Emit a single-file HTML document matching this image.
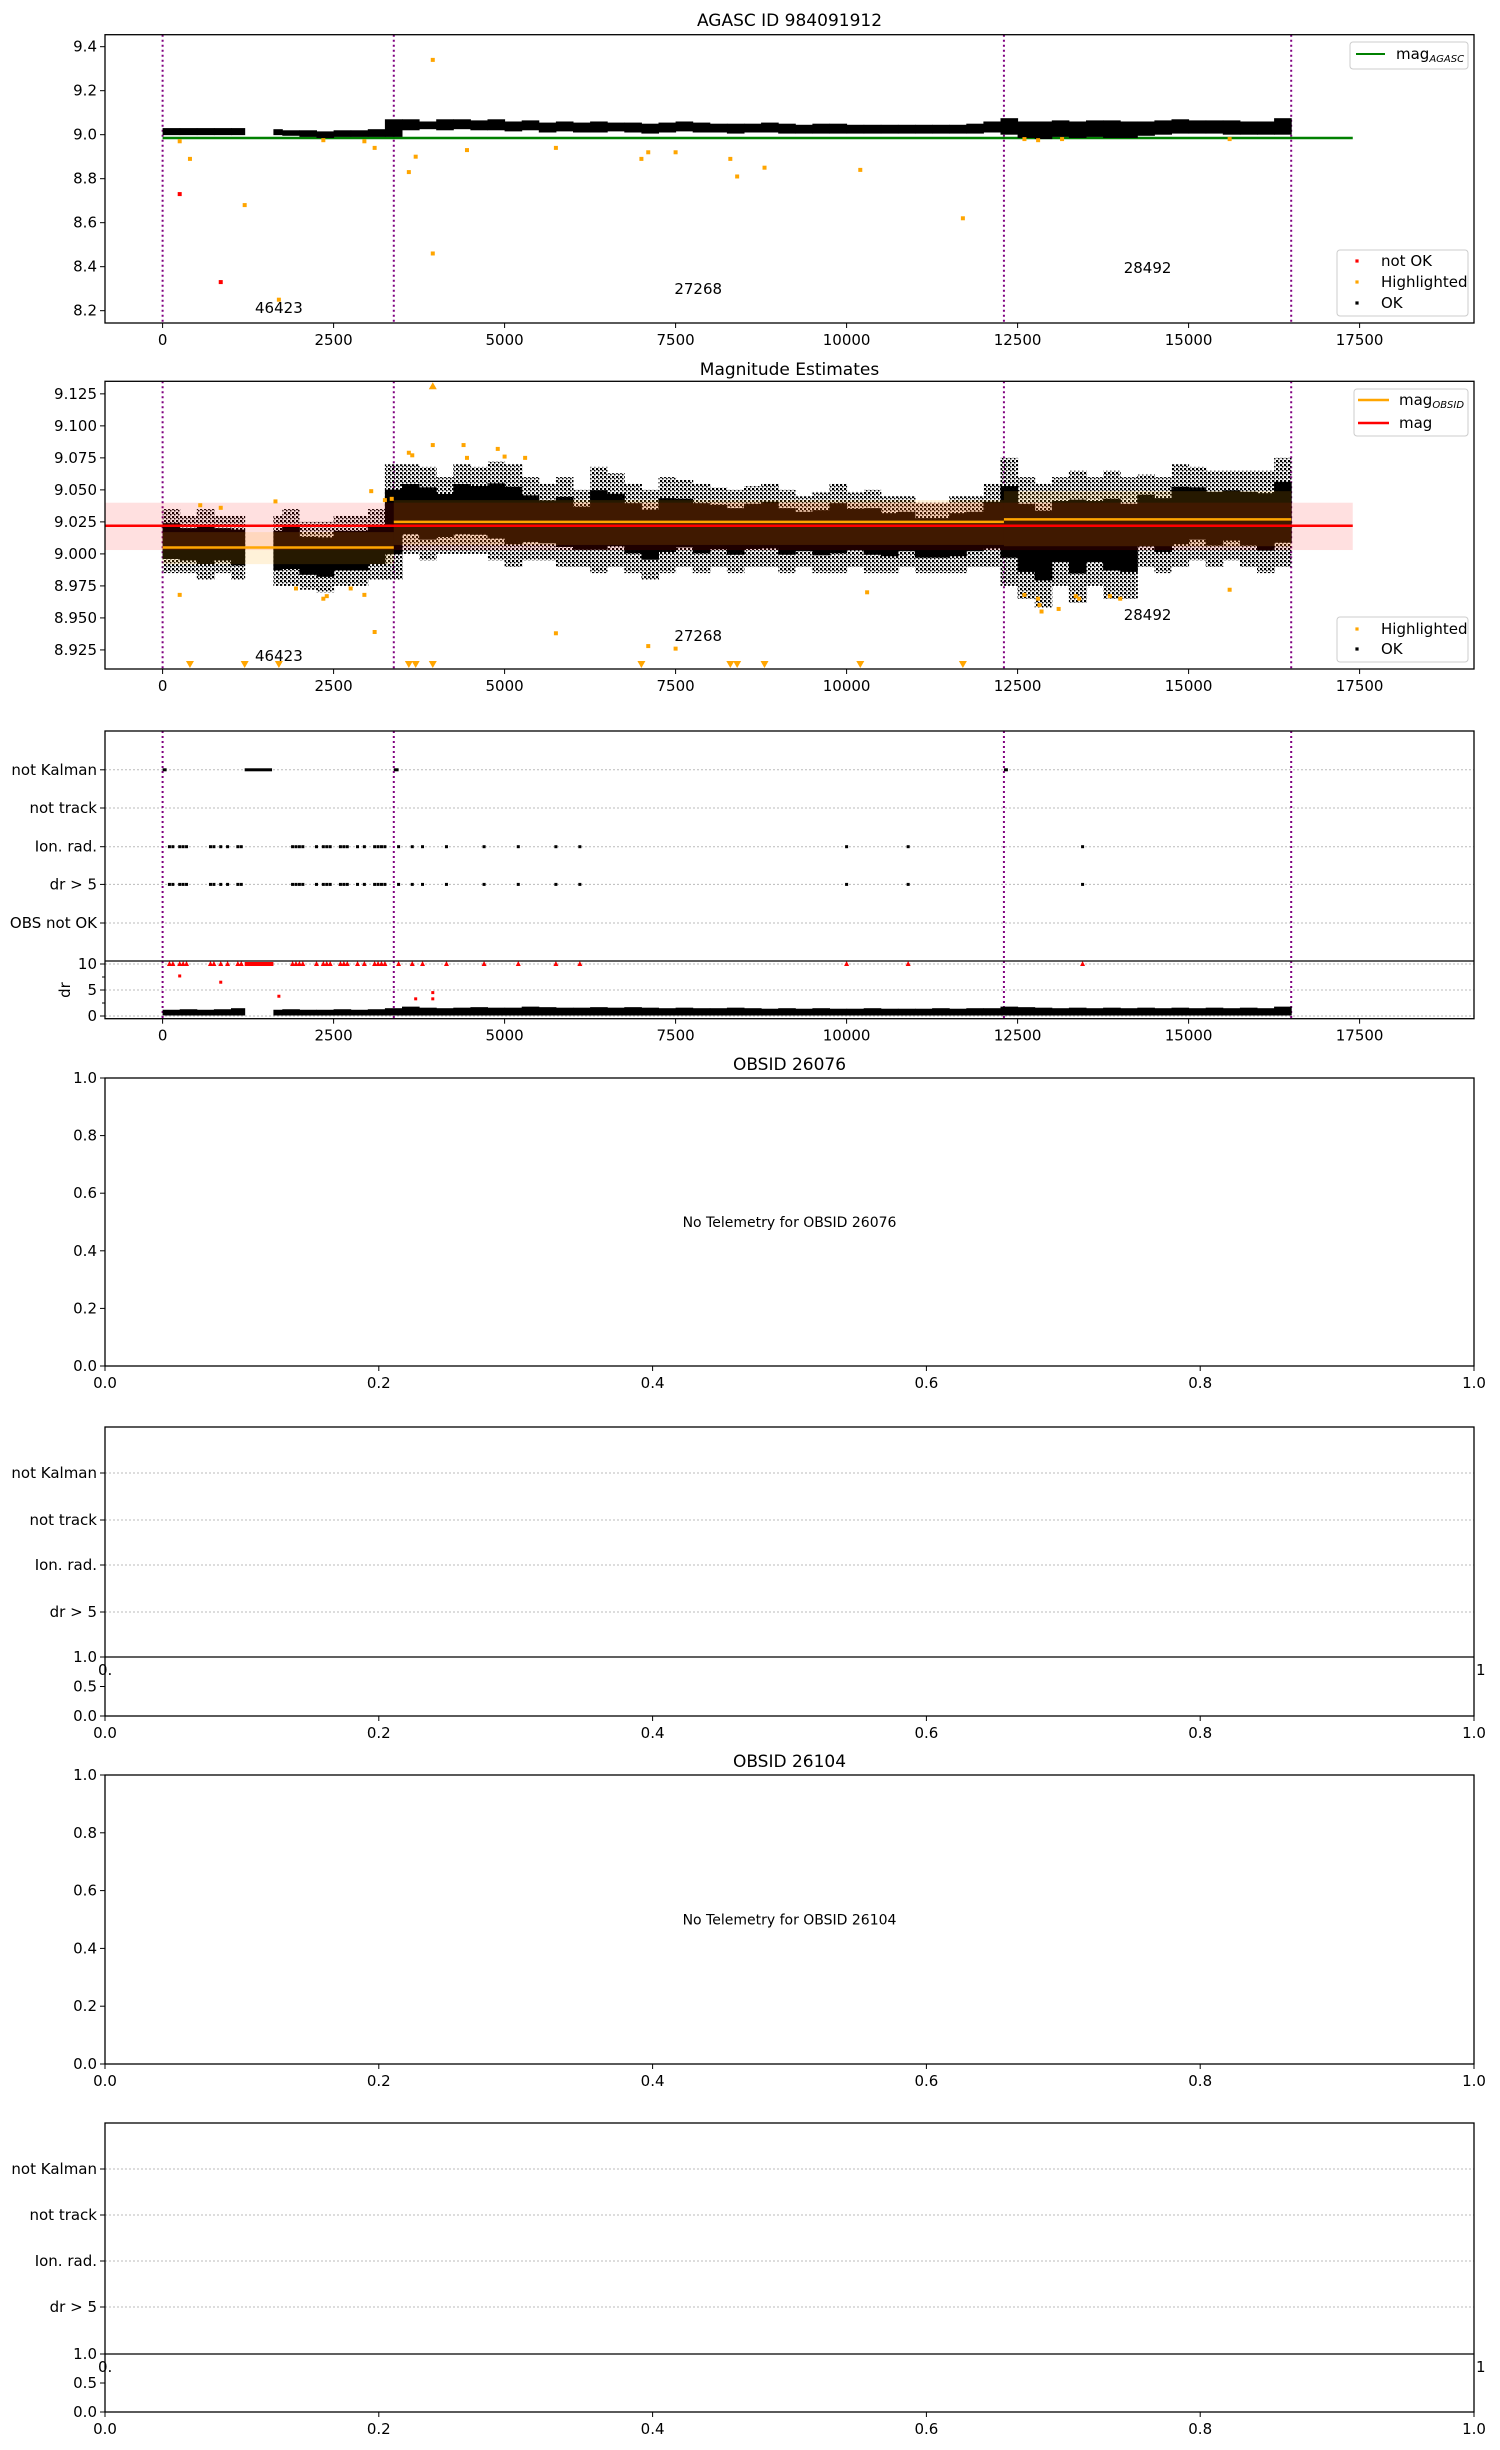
<!DOCTYPE html>
<html><head><meta charset="utf-8">
<style>
html,body{margin:0;padding:0;background:#fff;}
svg{display:block;font-family:"DejaVu Sans","Liberation Sans",sans-serif;}
</style></head>
<body>
<svg id="fig" width="1500" height="2450" xmlns="http://www.w3.org/2000/svg">
<defs>
<pattern id="dots" width="4" height="4" patternUnits="userSpaceOnUse"><rect x="0" y="0" width="2.2" height="2.2" fill="#000"/><rect x="2" y="2" width="1.5" height="1.5" fill="#000"/></pattern>
</defs>
</svg>
<script>
// ---- data (bins of 250 starting at 0) ----
const binWidth = 250;
const p1Lo = [8.998,8.998,8.998,8.998,8.998,null,8.998,8.995,8.99,8.985,8.99,8.99,8.99,8.99,9.02,9.025,9.02,9.025,9.02,9.02,9.015,9.02,9.01,9.015,9.01,9.01,9.015,9.01,9.005,9.01,9.015,9.01,9.01,9.005,9.01,9.01,9.005,9.005,9.005,9.005,9.005,9.005,9.005,9.005,9.005,9.005,9.005,9.005,9.01,9.0,8.985,8.98,8.99,8.985,8.99,8.985,8.985,8.995,9.0,9.005,9.005,9.005,9.0,9.0,9.0,9.0];
const p1Hi = [9.03,9.03,9.03,9.03,9.03,null,9.025,9.02,9.02,9.015,9.02,9.02,9.025,9.07,9.07,9.06,9.07,9.07,9.065,9.07,9.06,9.065,9.055,9.06,9.055,9.06,9.055,9.055,9.05,9.055,9.06,9.055,9.05,9.05,9.05,9.055,9.05,9.045,9.05,9.05,9.045,9.045,9.045,9.045,9.045,9.045,9.045,9.05,9.06,9.075,9.06,9.06,9.065,9.06,9.065,9.065,9.06,9.06,9.065,9.07,9.065,9.065,9.065,9.06,9.06,9.075];
const p2Lo = [8.985,8.985,8.98,8.985,8.98,null,8.975,8.975,8.972,8.97,8.975,8.975,8.98,8.98,9.0,8.995,9.0,9.0,9.0,8.995,8.99,8.995,8.995,8.99,8.99,8.985,8.99,8.985,8.98,8.985,8.99,8.985,8.99,8.985,8.99,8.99,8.985,8.99,8.985,8.985,8.99,8.985,8.985,8.99,8.985,8.985,8.985,8.99,8.99,8.975,8.965,8.958,8.975,8.962,8.975,8.965,8.965,8.99,8.985,8.99,8.995,8.99,8.995,8.99,8.985,8.99];
const p2Hi = [9.035,9.03,9.035,9.03,9.03,null,9.03,9.035,9.025,9.025,9.03,9.03,9.035,9.07,9.07,9.068,9.06,9.07,9.068,9.072,9.07,9.06,9.055,9.06,9.05,9.068,9.063,9.055,9.05,9.06,9.058,9.055,9.052,9.05,9.053,9.055,9.05,9.045,9.048,9.055,9.048,9.05,9.045,9.045,9.04,9.04,9.045,9.045,9.055,9.075,9.06,9.055,9.06,9.065,9.06,9.065,9.06,9.062,9.06,9.07,9.068,9.065,9.065,9.065,9.065,9.075];
const drHi = [1.2,1.3,1.2,1.3,1.5,null,1.2,1.3,1.2,1.2,1.3,1.2,1.3,1.5,1.8,1.6,1.5,1.6,1.7,1.6,1.6,1.8,1.7,1.6,1.6,1.7,1.6,1.7,1.6,1.5,1.6,1.5,1.5,1.6,1.5,1.4,1.5,1.4,1.5,1.4,1.4,1.5,1.4,1.4,1.4,1.5,1.4,1.5,1.5,1.8,1.7,1.6,1.5,1.6,1.5,1.6,1.5,1.6,1.5,1.6,1.5,1.6,1.5,1.6,1.5,1.8];
const obsStarts = [0,3380,12300,16500];
const obsIds = ["46423","27268","28492"];
const p1HlX = [250,400,1200,1700,3100,3600,3700,3950,3950,4450,5750,7000,7100,7500,8300,8400,8800,10200,11700,12600,12800,13150,15600,2350,2950];
const p1HlY = [8.97,8.89,8.68,8.25,8.94,8.83,8.90,9.34,8.46,8.93,8.94,8.89,8.92,8.92,8.89,8.81,8.85,8.84,8.62,8.98,8.975,8.98,8.98,8.975,8.97];
const p1BadX = [250,850];
const p1BadY = [8.73,8.33];
const p2HlX = [250,550,850,1650,1950,2350,2400,2750,2950,3050,3100,3250,3350,3600,3650,4400,4450,4900,5000,5300,5750,3950,7100,7500,10300,12600,12800,12820,12850,13100,13350,13400,13850,14000,15600];
const p2HlY = [8.968,9.038,9.036,9.041,8.973,8.965,8.967,8.973,8.968,9.049,8.939,9.042,9.043,9.079,9.077,9.085,9.075,9.082,9.076,9.075,8.938,9.085,8.928,8.926,8.97,8.968,8.965,8.96,8.955,8.957,8.967,8.965,8.967,8.965,8.972];
const p2DownX = [400,1200,1700,3600,3700,3950,7000,8300,8400,8800,10200,11700];
const p2UpX = [3950];
const flagCats = ["not Kalman","not track","Ion. rad.","dr > 5","OBS not OK"];
const kalmanSegs = [[0,50],[1200,1600],[3380,3450],[12300,12350]];
const ionX = [100,150,250,300,350,700,750,850,950,1100,1150,1900,1950,2000,2050,2250,2350,2400,2450,2600,2650,2700,2850,2950,3100,3150,3200,3250,3450,3650,3800,4150,4700,5200,5750,6100,10000,10900,13450];
const drRedX = [250,850,1700,3700,3950,3950];
const drRedY = [7.7,6.5,3.8,3.3,4.5,3.3];
const xTicks = [0,2500,5000,7500,10000,12500,15000,17500];
const p1YTicks = [8.2,8.4,8.6,8.8,9.0,9.2,9.4];
const p2YTicks = [8.925,8.95,8.975,9.0,9.025,9.05,9.075,9.1,9.125];
const fracTicks = [0,0.2,0.4,0.6,0.8,1.0];
const agascMag = 8.985, magMean = 9.022, magLo = 9.003, magHi = 9.040;
const obsMag = [9.005,9.025,9.027], obsLo = [8.992,9.007,9.006], obsHi = [9.017,9.042,9.049];

// ---- helpers ----
const svg = document.getElementById('fig');
const NS = 'http://www.w3.org/2000/svg';
function mk(tag, attrs, parent, txt){
  const e = document.createElementNS(NS, tag);
  for (const k in attrs) e.setAttribute(k, attrs[k]);
  if (txt !== undefined) e.textContent = txt;
  (parent || svg).appendChild(e);
  return e;
}
const AXL = 105, AXR = 1474;
const X = v => 162.6 + v * 0.0684;
const lin = (d0,d1,r0,r1) => v => r0 + (v-d0)/(d1-d0)*(r1-r0);
const FX = lin(0,1,AXL,AXR);

function frame(name){
  const g = mk('g',{});
  
  
  return g;
}
function border(g,top,bot){
  mk('rect',{x:AXL,y:top,width:AXR-AXL,height:bot-top,fill:'none',stroke:'#000','stroke-width':1.3},g);
}
function xAxisTicks(g,bot,ticks,fx,fmt){
  ticks.forEach(t=>{
    const x = fx(t);
    mk('line',{x1:x,x2:x,y1:bot,y2:bot+5,stroke:'#000','stroke-width':1},g);
    const tx = mk('text',{x:x,y:bot+22,'text-anchor':'middle','font-size':15},g,fmt(t));
    
    
  });
}
function yAxisTicks(g,ticks,fy,fmt){
  ticks.forEach(t=>{
    const y = fy(t);
    mk('line',{x1:AXL-5,x2:AXL,y1:y,y2:y,stroke:'#000','stroke-width':1},g);
    const tx = mk('text',{x:AXL-8,y:y+5,'text-anchor':'end','font-size':15},g,fmt(t));
    
    
  });
}
function vlines(g,top,bot){
  obsStarts.forEach(s=>{
    mk('line',{x1:X(s),x2:X(s),y1:top,y2:bot,stroke:'#800080','stroke-width':2,'stroke-dasharray':'2,3'},g);
  });
}
function title(txt,y,name){
  const t = mk('text',{x:(AXL+AXR)/2,y:y,'text-anchor':'middle','font-size':17},svg,txt);
  
  
}
function dot(g,x,y,r,c){ mk('rect',{x:x-r,y:y-r,width:2*r,height:2*r,fill:c},g); }
function clip(id,top,bot){
  const cp = mk('clipPath',{id:id}); mk('rect',{x:AXL,y:top,width:AXR-AXL,height:bot-top},cp);
}

// ================= Panel 1 =================
(function(){
  const top=34.7, bot=323, Y = lin(9.4545,8.144,top,bot);
  clip('c1',top,bot);
  const g = frame('agasc-panel');
  title('AGASC ID 984091912',26,'agasc-title');
  const d = mk('g',{'clip-path':'url(#c1)'},g);
  vlines(d,top,bot);
  const gl = mk('line',{x1:X(0),x2:X(17400),y1:Y(agascMag),y2:Y(agascMag),stroke:'#008000','stroke-width':2.5},d);
  
  p1Lo.forEach((lo,i)=>{
    if(lo===null) return;
    let x0=i*binWidth, x1=x0+binWidth;
    if(i===4) x1=1200; if(i===6) x0=1620;
    const r = mk('rect',{x:X(x0),y:Y(p1Hi[i]),width:X(x1)-X(x0)+0.5,height:Y(lo)-Y(p1Hi[i]),fill:'#000'},d);
    
    
  });
  p1HlX.forEach((x,i)=>dot(d,X(x),Y(p1HlY[i]),2,'#ffa500'));
  p1BadX.forEach((x,i)=>dot(d,X(x),Y(p1BadY[i]),2,'#ff0000'));
  const ann=[[1700,313],[7830,294],[14400,273]];
  obsIds.forEach((id,i)=>{const t=mk('text',{x:X(ann[i][0]),y:ann[i][1],'text-anchor':'middle','font-size':15},d,id);
    
    });
  border(g,top,bot);
  xAxisTicks(g,bot,xTicks,X,String);
  yAxisTicks(g,p1YTicks,Y,v=>v.toFixed(1));
  const l1 = mk('g',{},g);
  
  
  mk('rect',{x:1350,y:42,width:118,height:27,rx:3,fill:'#fff',stroke:'#ccc'},l1);
  mk('line',{x1:1356,x2:1385,y1:54,y2:54,stroke:'#008000','stroke-width':2},l1);
  const tt=mk('text',{x:1396,y:59,'font-size':15},l1); mk('tspan',{},tt,'mag');
  mk('tspan',{'font-size':10,'font-style':'italic',dy:3},tt,'AGASC');
  const l2 = mk('g',{},g);
  
  
  mk('rect',{x:1337,y:250,width:131,height:66,rx:3,fill:'#fff',stroke:'#ccc'},l2);
  [['not OK','#ff0000',261],['Highlighted','#ffa500',282],['OK','#000',303]].forEach(e=>{
    dot(l2,1357,e[2],1.6,e[1]); mk('text',{x:1381,y:e[2]+5,'font-size':15},l2,e[0]);
  });
})();

// ================= Panel 2 =================
(function(){
  const top=381.3, bot=669, Y = lin(9.1348,8.9101,top,bot);
  clip('c2',top,bot);
  const g = frame('magnitude-panel');
  title('Magnitude Estimates',375,'magnitude-title');
  const d = mk('g',{'clip-path':'url(#c2)'},g);
  vlines(d,top,bot);
  p2Lo.forEach((lo,i)=>{
    if(lo===null) return;
    let x0=i*binWidth, x1=x0+binWidth;
    if(i===4) x1=1200; if(i===6) x0=1620;
    const hi=p2Hi[i], mid=(lo+hi)/2, span=hi-lo;
    const r = mk('rect',{x:X(x0),y:Y(hi),width:X(x1)-X(x0)+0.5,height:Y(lo)-Y(hi),fill:'url(#dots)'},d);
    
    
    mk('rect',{x:X(x0),y:Y(mid+span*0.28),width:X(x1)-X(x0)+0.5,height:Y(mid-span*0.28)-Y(mid+span*0.28),fill:'#000'},d);
  });
  const rb = mk('rect',{x:AXL,y:Y(magHi),width:X(17400)-AXL,height:Y(magLo)-Y(magHi),fill:'#ff0000','fill-opacity':0.12},d);
  
  for(let i=0;i<3;i++){
    const x0=X(obsStarts[i]), x1=X(obsStarts[i+1]);
    mk('rect',{x:x0,y:Y(obsHi[i]),width:x1-x0,height:Y(obsLo[i])-Y(obsHi[i]),fill:'#ffa500','fill-opacity':0.15},d);
  }
  const ml = mk('line',{x1:AXL,x2:X(17400),y1:Y(magMean),y2:Y(magMean),stroke:'#ff0000','stroke-width':2.5},d);
  
  for(let i=0;i<3;i++){
    const l=mk('line',{x1:X(obsStarts[i]),x2:X(obsStarts[i+1]),y1:Y(obsMag[i]),y2:Y(obsMag[i]),stroke:'#ffa500','stroke-width':2.5},d);
    
  }
  p2HlX.forEach((x,i)=>dot(d,X(x),Y(p2HlY[i]),2,'#ffa500'));
  p2DownX.forEach(x=>mk('path',{d:`M${X(x)-4},${bot-8}L${X(x)+4},${bot-8}L${X(x)},${bot-1}Z`,fill:'#ffa500'},d));
  p2UpX.forEach(x=>mk('path',{d:`M${X(x)-4},${top+8}L${X(x)+4},${top+8}L${X(x)},${top+1}Z`,fill:'#ffa500'},d));
  const ann=[[1700,661],[7830,641],[14400,620]];
  obsIds.forEach((id,i)=>{const t=mk('text',{x:X(ann[i][0]),y:ann[i][1],'text-anchor':'middle','font-size':15},d,id);
    
    });
  border(g,top,bot);
  xAxisTicks(g,bot,xTicks,X,String);
  yAxisTicks(g,p2YTicks,Y,v=>v.toFixed(3));
  const l1 = mk('g',{},g);
  
  
  mk('rect',{x:1354,y:389,width:114,height:47,rx:3,fill:'#fff',stroke:'#ccc'},l1);
  mk('line',{x1:1358,x2:1389,y1:400,y2:400,stroke:'#ffa500','stroke-width':2.5},l1);
  const tt=mk('text',{x:1399,y:405,'font-size':15},l1); mk('tspan',{},tt,'mag');
  mk('tspan',{'font-size':10,'font-style':'italic',dy:3},tt,'OBSID');
  mk('line',{x1:1358,x2:1389,y1:423,y2:423,stroke:'#ff0000','stroke-width':2.5},l1);
  mk('text',{x:1399,y:428,'font-size':15},l1,'mag');
  const l2 = mk('g',{},g);
  
  
  mk('rect',{x:1337,y:617,width:131,height:45,rx:3,fill:'#fff',stroke:'#ccc'},l2);
  [['Highlighted','#ffa500',629],['OK','#000',649]].forEach(e=>{
    dot(l2,1357,e[2],1.6,e[1]); mk('text',{x:1381,y:e[2]+5,'font-size':15},l2,e[0]);
  });
})();

// ================= Panel 3 (flags, with data) =================
(function(){
  const top=731, split=961, bot=1018.7;
  const catYs=[769.8,808,846.7,884.4,923];
  const g = frame('flags-panel-46423');
  catYs.forEach((y,i)=>{
    mk('line',{x1:AXL,x2:AXR,y1:y,y2:y,stroke:'#bbb','stroke-width':1,'stroke-dasharray':'2,2'},g);
    mk('line',{x1:AXL-5,x2:AXL,y1:y,y2:y,stroke:'#000'},g);
    const t=mk('text',{x:AXL-8,y:y+5,'text-anchor':'end','font-size':15},g,flagCats[i]);
    
    
  });
  const D = v => 1016 - v*5.2;
  [0,5,10].forEach(v=>mk('line',{x1:AXL,x2:AXR,y1:D(v),y2:D(v),stroke:'#bbb','stroke-dasharray':'2,2'},g));
  vlines(g,top,bot);
  kalmanSegs.forEach(s=>mk('rect',{x:X(s[0]),y:catYs[0]-1.5,width:Math.max(X(s[1])-X(s[0]),4),height:3,fill:'#000'},g));
  ionX.forEach(x=>{ dot(g,X(x),catYs[2],1.5,'#000'); dot(g,X(x),catYs[3],1.5,'#000');
    mk('path',{d:`M${X(x)-2.5},${D(10)+2}L${X(x)+2.5},${D(10)+2}L${X(x)},${D(10)-3}Z`,fill:'#ff0000'},g); });
  mk('rect',{x:X(1200),y:D(10)-2,width:X(1620)-X(1200),height:4,fill:'#ff0000'},g);
  drRedX.forEach((x,i)=>dot(g,X(x),D(drRedY[i]),1.5,'#ff0000'));
  drHi.forEach((h,i)=>{
    if(h===null) return;
    let x0=i*binWidth, x1=x0+binWidth; if(i===4) x1=1200; if(i===6) x0=1620;
    const r=mk('rect',{x:X(x0),y:D(h),width:X(x1)-X(x0)+0.5,height:D(0.1)-D(h),fill:'#000'},g);
    
    
  });
  mk('line',{x1:AXL,x2:AXR,y1:split,y2:split,stroke:'#000','stroke-width':1.3},g);
  border(g,top,bot);
  [0,5,10].forEach(v=>{ mk('line',{x1:AXL-5,x2:AXL,y1:D(v),y2:D(v),stroke:'#000'},g);
    mk('text',{x:AXL-8,y:D(v)+5,'text-anchor':'end','font-size':15},g,String(v)); });
  [2.5,7.5].forEach(v=>mk('line',{x1:AXL-3,x2:AXL,y1:D(v),y2:D(v),stroke:'#000'},g));
  const yl=mk('text',{x:0,y:0,'text-anchor':'middle','font-size':15,transform:'translate(70,990) rotate(-90)'},g,'dr');
  
  
  xAxisTicks(g,bot,xTicks,X,String);
})();

// Empty "No Telemetry" panels
function emptyPanel(top,bot,obsid,titleY){
  const g = frame('obsid-panel-'+obsid);
  title('OBSID '+obsid,titleY,'obsid-title-'+obsid);
  border(g,top,bot);
  const fy = lin(0,1,bot,top);
  yAxisTicks(g,fracTicks,fy,v=>v.toFixed(1));
  xAxisTicks(g,bot,fracTicks,FX,v=>v.toFixed(1));
  const t=mk('text',{x:(AXL+AXR)/2,y:(top+bot)/2+5,'text-anchor':'middle','font-size':14},g,'No Telemetry for OBSID '+obsid);
  
  
}
function emptyFlags(top,split,bot,catYs,obsid){
  const g = frame('flags-panel-'+obsid);
  catYs.forEach((y,i)=>{
    mk('line',{x1:AXL,x2:AXR,y1:y,y2:y,stroke:'#bbb','stroke-dasharray':'2,2'},g);
    mk('line',{x1:AXL-5,x2:AXL,y1:y,y2:y,stroke:'#000'},g);
    const t=mk('text',{x:AXL-8,y:y+5,'text-anchor':'end','font-size':15},g,flagCats[i]);
    
    
  });
  mk('text',{x:98,y:split+18,'font-size':15},g,'0.');
  mk('text',{x:1476,y:split+18,'font-size':15},g,'1');
  border(g,top,bot);
  mk('line',{x1:AXL,x2:AXR,y1:split,y2:split,stroke:'#000','stroke-width':1.3},g);
  yAxisTicks(g,[0,0.5,1.0],lin(0,1,bot,split),v=>v.toFixed(1));
  xAxisTicks(g,bot,fracTicks,FX,v=>v.toFixed(1));
}
emptyPanel(1078,1366,'26076',1070);
emptyFlags(1427,1657,1716,[1473,1520,1565,1612],'26076');
emptyPanel(1775,2064,'26104',1767);
emptyFlags(2123,2354,2412,[2169,2215,2261,2307],'26104');
</script>
</body></html>
